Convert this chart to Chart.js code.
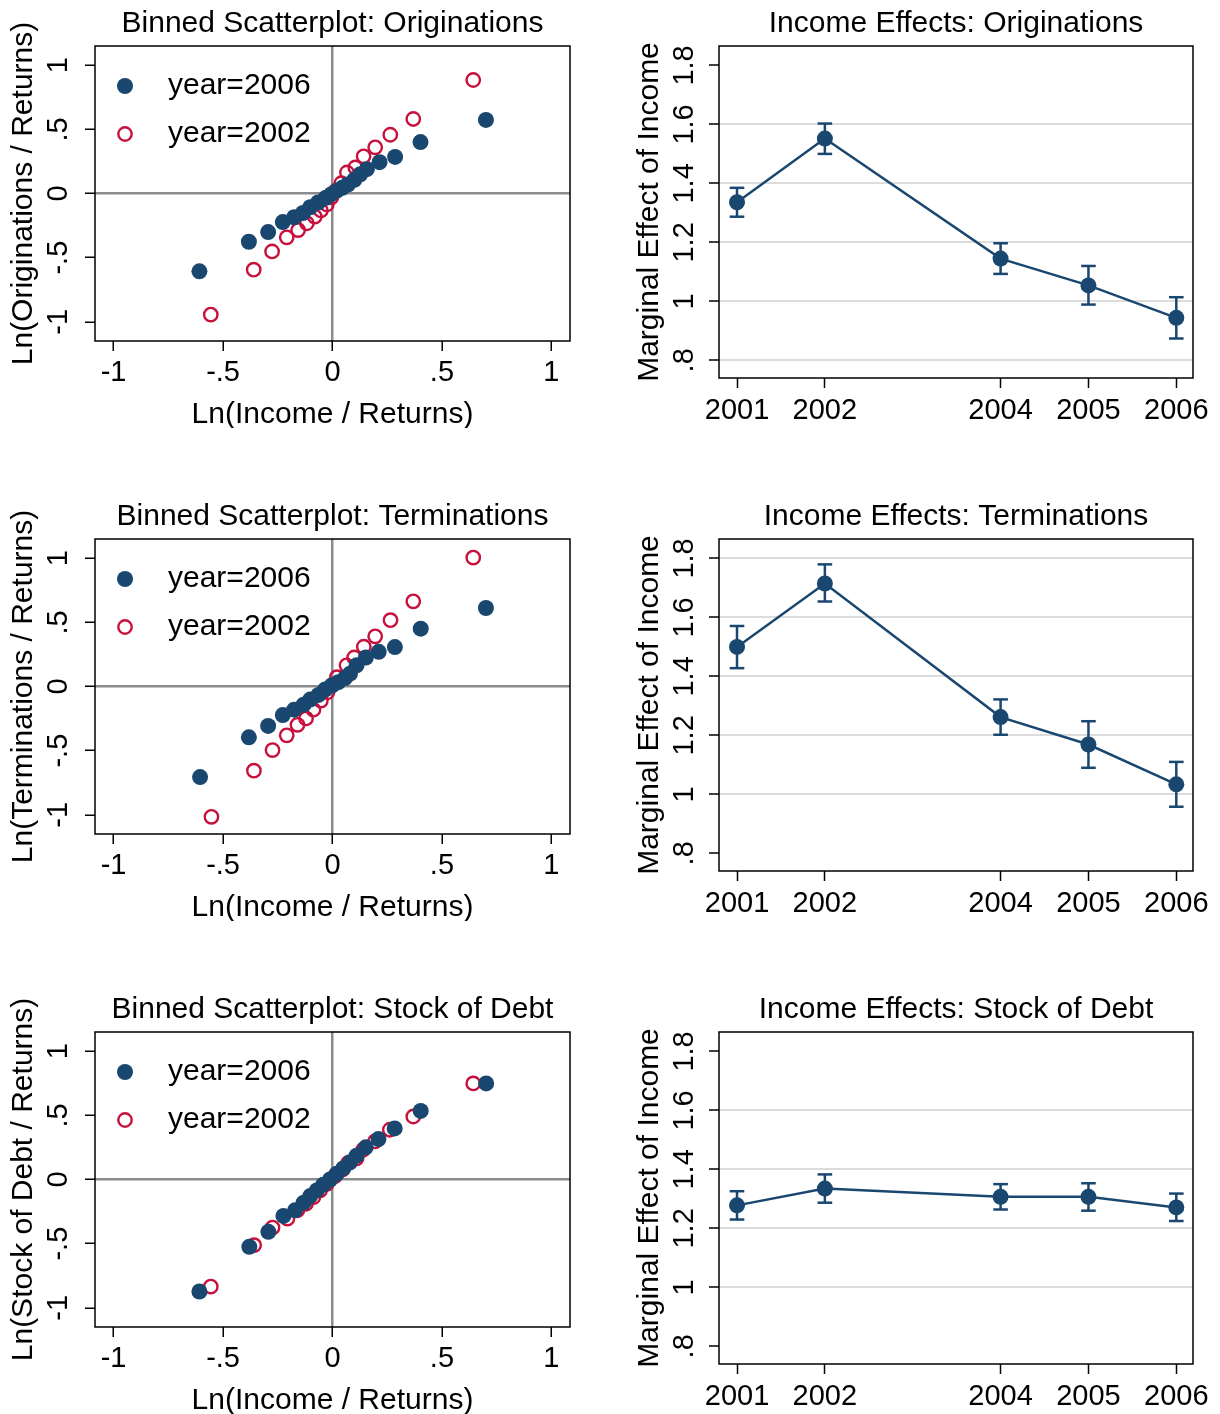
<!DOCTYPE html>
<html>
<head>
<meta charset="utf-8">
<script src="https://cdn.jsdelivr.net/npm/chart.js@4.4.0/dist/chart.umd.min.js"></script>
<style>
  body { margin: 0; background: #fff; overflow: hidden; }
  canvas { position: absolute; }
</style>
</head>
<body>
<canvas id="scOrig" width="610" height="428" style="left:0;top:0"></canvas>
<canvas id="efOrig" width="610" height="428" style="left:610px;top:0"></canvas>
<canvas id="scTerm" width="610" height="428" style="left:0;top:493px"></canvas>
<canvas id="efTerm" width="610" height="428" style="left:610px;top:493px"></canvas>
<canvas id="scDebt" width="610" height="428" style="left:0;top:986px"></canvas>
<canvas id="efDebt" width="610" height="428" style="left:610px;top:986px"></canvas>
<script>
// binned scatter data: Ln(Income / Returns) vs Ln(outcome / Returns)
var origX2006 = [-0.608, -0.382, -0.294, -0.227, -0.175, -0.135, -0.102, -0.066, -0.030, -0.005, 0.020, 0.045, 0.070, 0.100, 0.127, 0.157, 0.215, 0.286, 0.402, 0.701];
var origY2006 = [-0.607, -0.376, -0.301, -0.223, -0.185, -0.152, -0.107, -0.070, -0.033, -0.005, 0.022, 0.045, 0.070, 0.107, 0.150, 0.190, 0.244, 0.285, 0.401, 0.574];
var origX2002 = [-0.556, -0.360, -0.276, -0.209, -0.157, -0.117, -0.081, -0.053, -0.026, -0.005, 0.015, 0.040, 0.066, 0.104, 0.142, 0.195, 0.264, 0.369, 0.643];
var origY2002 = [-0.944, -0.594, -0.452, -0.342, -0.285, -0.232, -0.180, -0.132, -0.086, -0.030, 0.020, 0.080, 0.164, 0.203, 0.290, 0.360, 0.458, 0.581, 0.885];

var termX2006 = [-0.605, -0.382, -0.294, -0.227, -0.175, -0.132, -0.102, -0.064, -0.034, -0.004, 0.027, 0.057, 0.080, 0.110, 0.152, 0.211, 0.285, 0.403, 0.701];
var termY2006 = [-0.706, -0.396, -0.307, -0.223, -0.181, -0.142, -0.102, -0.066, -0.024, 0.008, 0.034, 0.066, 0.100, 0.165, 0.226, 0.270, 0.307, 0.451, 0.612];
var termX2002 = [-0.553, -0.359, -0.274, -0.209, -0.160, -0.121, -0.087, -0.053, -0.023, 0.000, 0.020, 0.064, 0.099, 0.143, 0.195, 0.265, 0.369, 0.643];
var termY2002 = [-1.016, -0.656, -0.496, -0.381, -0.299, -0.249, -0.181, -0.110, -0.045, 0.010, 0.073, 0.165, 0.226, 0.310, 0.391, 0.517, 0.664, 1.005];

var debtX2006 = [-0.608, -0.380, -0.293, -0.224, -0.171, -0.132, -0.102, -0.072, -0.042, -0.011, 0.019, 0.050, 0.080, 0.110, 0.152, 0.210, 0.284, 0.403, 0.702];
var debtY2006 = [-0.873, -0.525, -0.408, -0.284, -0.240, -0.181, -0.129, -0.085, -0.041, 0.000, 0.044, 0.088, 0.134, 0.186, 0.251, 0.315, 0.398, 0.535, 0.749];
var debtX2002 = [-0.556, -0.358, -0.274, -0.206, -0.160, -0.121, -0.087, -0.057, -0.026, 0.011, 0.046, 0.072, 0.110, 0.140, 0.194, 0.262, 0.369, 0.643];
var debtY2002 = [-0.835, -0.512, -0.375, -0.305, -0.240, -0.189, -0.137, -0.085, -0.034, 0.026, 0.078, 0.129, 0.165, 0.232, 0.297, 0.388, 0.491, 0.749];

// income effects by year, with confidence bounds
var years = [2001, 2002, 2004, 2005, 2006];
var origEst = [1.336, 1.552, 1.145, 1.054, 0.944];
var origLo  = [1.287, 1.500, 1.093, 0.989, 0.874];
var origHi  = [1.385, 1.603, 1.197, 1.120, 1.014];
var termEst = [1.500, 1.715, 1.262, 1.169, 1.034];
var termLo  = [1.428, 1.654, 1.202, 1.090, 0.958];
var termHi  = [1.571, 1.780, 1.322, 1.248, 1.110];
var debtEst = [1.278, 1.335, 1.307, 1.307, 1.271];
var debtLo  = [1.230, 1.287, 1.264, 1.260, 1.225];
var debtHi  = [1.326, 1.383, 1.350, 1.353, 1.318];

var scatterTicks = [-1, -0.5, 0, 0.5, 1];
var effectTicks = [0.8, 1, 1.2, 1.4, 1.6, 1.8];

var NAVY = '#1a476f';
var RED = '#c8103c';
var FONT = '"Liberation Sans", Arial, Helvetica, sans-serif';
Chart.defaults.font.family = FONT;
Chart.defaults.color = '#000';

function fmt(v) {
  var s = String(+v.toFixed(2));
  return s.replace(/^(-?)0\./, '$1.');
}

function pts(xs, ys) {
  return xs.map(function(x, i) { return { x: x, y: ys[i] }; });
}

var framePlugin = {
  id: 'frame',
  afterDraw: function(chart) {
    var a = chart.chartArea, ctx = chart.ctx;
    ctx.save();
    ctx.strokeStyle = '#000';
    ctx.lineWidth = 1.5;
    ctx.strokeRect(a.left, a.top, a.right - a.left, a.bottom - a.top);
    ctx.restore();
  }
};

// legend drawn inside the plot region, top left
var innerLegend = {
  id: 'innerLegend',
  afterDraw: function(chart) {
    var a = chart.chartArea, ctx = chart.ctx;
    ctx.save();
    chart.data.datasets.forEach(function(ds, i) {
      var y = a.top + 40 + i * 48;
      ctx.beginPath();
      ctx.arc(a.left + 30, y, ds.pointRadius, 0, Math.PI * 2);
      if (ds.pointBackgroundColor !== 'rgba(0,0,0,0)') {
        ctx.fillStyle = ds.pointBackgroundColor;
        ctx.fill();
      } else {
        ctx.strokeStyle = ds.pointBorderColor;
        ctx.lineWidth = ds.pointBorderWidth;
        ctx.stroke();
      }
      ctx.fillStyle = '#000';
      ctx.font = '30px ' + FONT;
      ctx.textBaseline = 'middle';
      ctx.textAlign = 'left';
      ctx.fillText(ds.label, a.left + 73, y);
    });
    ctx.restore();
  }
};

function scatterPanel(id, title, yTitle, x06, y06, x02, y02) {
  new Chart(document.getElementById(id), {
    type: 'scatter',
    data: {
      datasets: [{
        label: 'year=2006',
        data: pts(x06, y06),
        pointRadius: 8,
        pointBackgroundColor: NAVY,
        pointBorderColor: NAVY,
        pointBorderWidth: 0
      }, {
        label: 'year=2002',
        data: pts(x02, y02),
        pointRadius: 6.7,
        pointBackgroundColor: 'rgba(0,0,0,0)',
        pointBorderColor: RED,
        pointBorderWidth: 2.4
      }]
    },
    options: {
      responsive: false,
      animation: false,
      events: [],
      layout: { padding: { right: 40 } },
      plugins: {
        legend: { display: false },
        tooltip: { enabled: false },
        title: {
          display: true, text: title, fullSize: false,
          font: { size: 30, weight: 'normal' },
          padding: { top: 6, bottom: 4 }
        }
      },
      scales: {
        x: {
          type: 'linear', min: -1.085, max: 1.085,
          afterBuildTicks: function(s) { s.ticks = scatterTicks.map(function(v) { return { value: v }; }); },
          afterFit: function(s) { s.height = 87; },
          border: { display: false },
          grid: {
            color: function(c) { return c.tick && c.tick.value === 0 ? '#8c8c8c' : 'rgba(0,0,0,0)'; },
            lineWidth: 2.5, tickColor: '#000', tickWidth: 1.5, tickLength: 10
          },
          ticks: { autoSkip: false, padding: 5, font: { size: 29 }, callback: fmt },
          title: { display: true, text: 'Ln(Income / Returns)', font: { size: 30, lineHeight: 0.9 }, padding: 0 }
        },
        y: {
          type: 'linear', min: -1.15, max: 1.15,
          afterBuildTicks: function(s) { s.ticks = scatterTicks.map(function(v) { return { value: v }; }); },
          afterFit: function(s) { s.width = 95; },
          border: { display: false },
          grid: {
            color: function(c) { return c.tick && c.tick.value === 0 ? '#8c8c8c' : 'rgba(0,0,0,0)'; },
            lineWidth: 2.5, tickColor: '#000', tickWidth: 1.5, tickLength: 10
          },
          ticks: { autoSkip: false, padding: 9, minRotation: 90, maxRotation: 90, crossAlign: 'center', font: { size: 29 }, callback: fmt },
          title: { display: true, text: yTitle, font: { size: 30, lineHeight: 1 }, padding: { top: 9, bottom: 0 } }
        }
      }
    },
    plugins: [framePlugin, innerLegend]
  });
}

function effectPanel(id, title, est, lo, hi, gridVals) {
  var stems = [];
  years.forEach(function(yr, i) {
    stems.push({ x: yr, y: lo[i] }, { x: yr, y: hi[i] }, { x: yr, y: null });
  });
  var caps = pts(years, lo).concat(pts(years, hi));
  new Chart(document.getElementById(id), {
    type: 'line',
    data: {
      datasets: [{
        data: pts(years, est),
        borderColor: NAVY, borderWidth: 2.5,
        pointRadius: 8, pointBackgroundColor: NAVY, pointBorderWidth: 0
      }, {
        data: stems,
        borderColor: NAVY, borderWidth: 2.5, pointRadius: 0, spanGaps: false
      }, {
        data: caps,
        showLine: false, pointStyle: 'line', pointRadius: 7.3,
        pointBorderColor: NAVY, pointBorderWidth: 2.5
      }]
    },
    options: {
      responsive: false,
      animation: false,
      events: [],
      layout: { padding: { right: 27 } },
      plugins: {
        legend: { display: false },
        tooltip: { enabled: false },
        title: {
          display: true, text: title, fullSize: false,
          font: { size: 30, weight: 'normal' },
          padding: { top: 6, bottom: 4 }
        }
      },
      scales: {
        x: {
          type: 'linear', min: 2000.795, max: 2006.19,
          afterBuildTicks: function(s) { s.ticks = years.map(function(v) { return { value: v }; }); },
          afterFit: function(s) { s.height = 50; },
          border: { display: false },
          grid: { drawOnChartArea: false, tickColor: '#000', tickWidth: 1.5, tickLength: 10 },
          ticks: { autoSkip: false, padding: 6, font: { size: 29 }, callback: function(v) { return String(v); } }
        },
        y: {
          type: 'linear', min: 0.74, max: 1.866,
          afterBuildTicks: function(s) { s.ticks = effectTicks.map(function(v) { return { value: v }; }); },
          afterFit: function(s) { s.width = 109; },
          border: { display: false },
          grid: {
            color: function(c) { return c.tick && gridVals.indexOf(c.tick.value) >= 0 ? '#dcdcdc' : 'rgba(0,0,0,0)'; },
            lineWidth: 2, tickColor: '#000', tickWidth: 1.5, tickLength: 10
          },
          ticks: { autoSkip: false, padding: 4, minRotation: 90, maxRotation: 90, crossAlign: 'center', font: { size: 29 }, callback: fmt },
          title: { display: true, text: 'Marginal Effect of Income', font: { size: 30, lineHeight: 1 }, padding: { top: 25, bottom: 0 } }
        }
      }
    },
    plugins: [framePlugin]
  });
}

scatterPanel('scOrig', 'Binned Scatterplot: Originations', 'Ln(Originations / Returns)', origX2006, origY2006, origX2002, origY2002);
scatterPanel('scTerm', 'Binned Scatterplot: Terminations', 'Ln(Terminations / Returns)', termX2006, termY2006, termX2002, termY2002);
scatterPanel('scDebt', 'Binned Scatterplot: Stock of Debt', 'Ln(Stock of Debt / Returns)', debtX2006, debtY2006, debtX2002, debtY2002);

effectPanel('efOrig', 'Income Effects: Originations', origEst, origLo, origHi, [0.8, 1, 1.2, 1.4, 1.6]);
effectPanel('efTerm', 'Income Effects: Terminations', termEst, termLo, termHi, [1, 1.2, 1.4, 1.6, 1.8]);
effectPanel('efDebt', 'Income Effects: Stock of Debt', debtEst, debtLo, debtHi, [1, 1.2, 1.4, 1.6]);
</script>
</body>
</html>
